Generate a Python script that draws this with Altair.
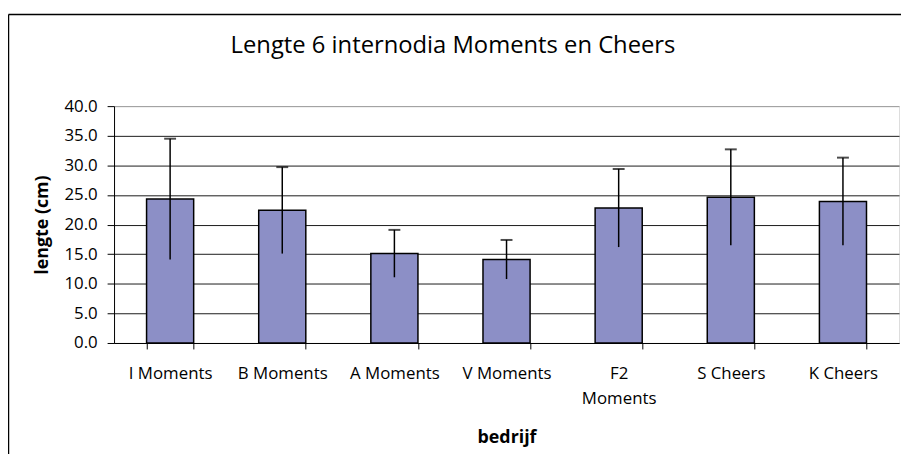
import altair as alt
import pandas as pd

categories = ["I Moments", "B Moments", "A Moments", "V Moments", "F2 Moments", "S Cheers", "K Cheers"]
means = [24.3, 22.4, 15.1, 14.1, 22.8, 24.6, 23.9]
sds = [10.2, 7.3, 4.0, 3.3, 6.6, 8.1, 7.4]
y_ticks = [0, 5, 10, 15, 20, 25, 30, 35, 40]

df = pd.DataFrame({"bedrijf": categories, "mean": means, "sd": sds})
df["lo"] = df["mean"] - df["sd"]
df["hi"] = df["mean"] + df["sd"]

FONT = "Open Sans"

x_axis = alt.Axis(
    labelAngle=0,
    tickBand="extent",
    domainColor="black",
    tickColor="black",
    tickSize=6,
    labelPadding=17,
    labelFont=FONT,
    labelFontSize=17,
    labelColor="black",
    labelLineHeight=25,
    labelExpr="datum.value == 'F2 Moments' ? ['F2', 'Moments'] : datum.value",
    titleFont=FONT,
    titleFontSize=18,
    titleFontWeight="bold",
    titleColor="black",
    titlePadding=22,
    grid=False,
)
x_scale = alt.Scale(paddingInner=0.58, paddingOuter=0.29)

y_scale = alt.Scale(domain=[0, 40], nice=False)
y_axis = alt.Axis(
    values=y_ticks,
    format=".1f",
    labelOverlap=False,
    domainColor="black",
    tickColor="black",
    tickSize=7,
    labelPadding=10,
    labelFont=FONT,
    labelFontSize=17,
    labelColor="black",
    titleFont=FONT,
    titleFontSize=18,
    titleFontWeight="bold",
    titleColor="black",
    titlePadding=13,
    grid=True,
    gridColor={"condition": {"test": "datum.value == 40", "value": "#9a9a9a"}, "value": "#1a1a1a"},
    gridWidth=1,
)


def xe():
    return alt.X("bedrijf:N", sort=categories, title="bedrijf", scale=x_scale, axis=x_axis)


def ye(field):
    return alt.Y(field, title="lengte (cm)", scale=y_scale, axis=y_axis)


bars = alt.Chart(df).mark_bar(color="#8C8FC6", stroke="black", strokeWidth=1.5).encode(
    x=xe(),
    y=ye("mean:Q"),
)

err = alt.Chart(df).mark_rule(color="black", strokeWidth=1.5).encode(
    x=xe(),
    y=ye("lo:Q"),
    y2="hi:Q",
)

caps = alt.Chart(df).mark_tick(color="black", thickness=2, size=12, orient="horizontal").encode(
    x=xe(),
    y=ye("hi:Q"),
)

one = pd.DataFrame({"k": [0]})
border_left = alt.Chart(one).mark_rule(color="black", strokeWidth=1.5).encode(
    x=alt.value(-106.5), y=alt.value(-92.5), y2=alt.value(500)
)
border_top = alt.Chart(one).mark_rule(color="black", strokeWidth=1.5).encode(
    x=alt.value(-106.5), x2=alt.value(900), y=alt.value(-92.5)
)

chart = (
    alt.layer(bars, err, caps, border_left, border_top)
    .properties(
        width=792,
        height=239,
        title=alt.TitleParams(
            "Lengte 6 internodia Moments en Cheers",
            font=FONT,
            fontSize=24,
            fontWeight="normal",
            color="black",
            anchor="middle",
            dx=-54,
            offset=-45,
        ),
        autosize=alt.AutoSizeParams(type="none"),
        padding={"left": 107, "top": 97, "right": 2, "bottom": 110},
    )
    .configure_view(fill="#B9BABE", stroke="#9a9a9a", strokeWidth=1)
    .configure(background="white")
)

chart.save("out.html", embed_options={"renderer": "svg", "actions": False})
